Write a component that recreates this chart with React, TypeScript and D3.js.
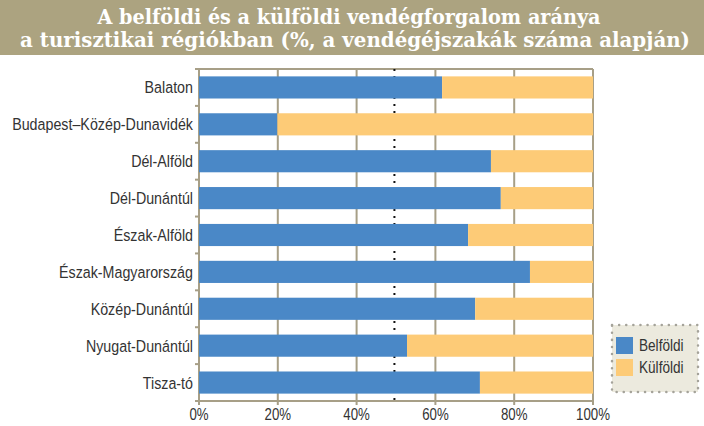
import React from "react";
import * as d3 from "d3";

const regions = [
  "Balaton",
  "Budapest–Közép-Dunavidék",
  "Dél-Alföld",
  "Dél-Dunántúl",
  "Észak-Alföld",
  "Észak-Magyarország",
  "Közép-Dunántúl",
  "Nyugat-Dunántúl",
  "Tisza-tó",
];
const belfoldi = [61.7, 19.9, 74.1, 76.6, 68.3, 84.0, 70.1, 52.8, 71.3];
const kulfoldi = [38.3, 80.1, 25.9, 23.4, 31.7, 16.0, 29.9, 47.2, 28.7];
const xTicks = [0, 20, 40, 60, 80, 100];
const refValue = 49.6;
const seriesNames = ["Belföldi", "Külföldi"];
const titleLines = [
  "A belföldi és a külföldi vendégforgalom aránya",
  "a turisztikai régiókban (%, a vendégéjszakák száma alapján)",
];

const W = 704;
const H = 426;
const M = { left: 199, right: 111, top: 69, bottom: 25 };
const BLUE = "#4a88c7";
const ORANGE = "#fdcb77";
const GRID = "#a79f87";
const sans = "'Liberation Sans', Arial, sans-serif";

function NText({
  x,
  y,
  sx,
  anchor,
  size,
  children,
}: {
  x: number;
  y: number;
  sx: number;
  anchor: "start" | "middle" | "end";
  size: number;
  children: React.ReactNode;
}) {
  return (
    <text
      transform={`translate(${x},${y}) scale(${sx},1)`}
      textAnchor={anchor}
      fontFamily={sans}
      fontSize={size}
      fill="#333"
    >
      {children}
    </text>
  );
}

export default function App() {
  const x = d3.scaleLinear().domain([0, 100]).range([M.left, W - M.right]);
  const y = d3
    .scaleBand<string>()
    .domain(regions)
    .range([M.top, H - M.bottom])
    .paddingInner(0.4)
    .paddingOuter(0.2);
  const y0 = M.top;
  const y1 = H - M.bottom;
  const boundaries = d3.range(regions.length + 1).map((i) => y0 + (i * (y1 - y0)) / regions.length);

  const legX = 612;
  const legY = 325;
  const legW = 86;
  const legH = 67;
  const titleWidths = [503, 670];

  return (
    <svg
      width={W}
      height={H}
      style={{ position: "absolute", left: 0, top: 0, display: "block", background: "#ffffff" }}
    >
      <rect x={0} y={0} width={W} height={55} fill="#aca380" />
      {titleLines.map((t, i) => (
        <text
          key={i}
          x={W / 2 - (i === 0 ? 3 : -3)}
          y={24 + i * 23}
          textAnchor="middle"
          fill="#ffffff"
          fontFamily="'DejaVu Serif', serif"
          fontWeight="bold"
          fontSize={20}
          textLength={titleWidths[i]}
          lengthAdjust="spacingAndGlyphs"
        >
          {t}
        </text>
      ))}

      {/* grid */}
      {xTicks.map((t) => (
        <line key={t} x1={x(t)} x2={x(t)} y1={y0} y2={y1 + 4} stroke={GRID} strokeWidth={2} />
      ))}
      <line x1={x(0)} x2={x(100)} y1={y0} y2={y0} stroke={GRID} strokeWidth={2} />
      <line x1={x(0)} x2={x(100)} y1={y1} y2={y1} stroke={GRID} strokeWidth={2} />
      {boundaries.map((b, i) => (
        <line key={i} x1={x(0) - 4} x2={x(0)} y1={b} y2={b} stroke={GRID} strokeWidth={2} />
      ))}

      {/* reference dotted line */}
      <line
        x1={x(refValue)}
        x2={x(refValue)}
        y1={y0}
        y2={y1}
        stroke="#111"
        strokeWidth={2}
        strokeDasharray="2,5"
      />

      {/* bars */}
      {regions.map((r, i) => (
        <g key={r}>
          <rect x={x(0)} y={y(r)!} width={x(belfoldi[i]) - x(0)} height={y.bandwidth()} fill={BLUE} />
          <rect
            x={x(belfoldi[i])}
            y={y(r)!}
            width={x(belfoldi[i] + kulfoldi[i]) - x(belfoldi[i])}
            height={y.bandwidth()}
            fill={ORANGE}
          />
          <NText x={x(0) - 6} y={y(r)! + y.bandwidth() / 2 + 6} sx={0.84} anchor="end" size={17}>
            {r}
          </NText>
        </g>
      ))}

      {/* x labels */}
      {xTicks.map((t) => (
        <NText key={t} x={x(t)} y={420} sx={0.78} anchor="middle" size={17}>
          {t}%
        </NText>
      ))}

      {/* legend */}
      <rect x={legX} y={legY} width={legW} height={legH} fill="#eceade" />
      <rect
        x={legX}
        y={legY}
        width={legW}
        height={legH}
        fill="none"
        stroke="#a5a39a"
        strokeWidth={2.5}
        strokeLinecap="round"
        strokeDasharray="0.1,7"
      />
      {seriesNames.map((s, i) => (
        <g key={s}>
          <rect x={616} y={337 + i * 22} width={17} height={17} fill={i === 0 ? BLUE : ORANGE} />
          <NText x={639} y={351 + i * 22} sx={0.8} anchor="start" size={17}>
            {s}
          </NText>
        </g>
      ))}
    </svg>
  );
}
